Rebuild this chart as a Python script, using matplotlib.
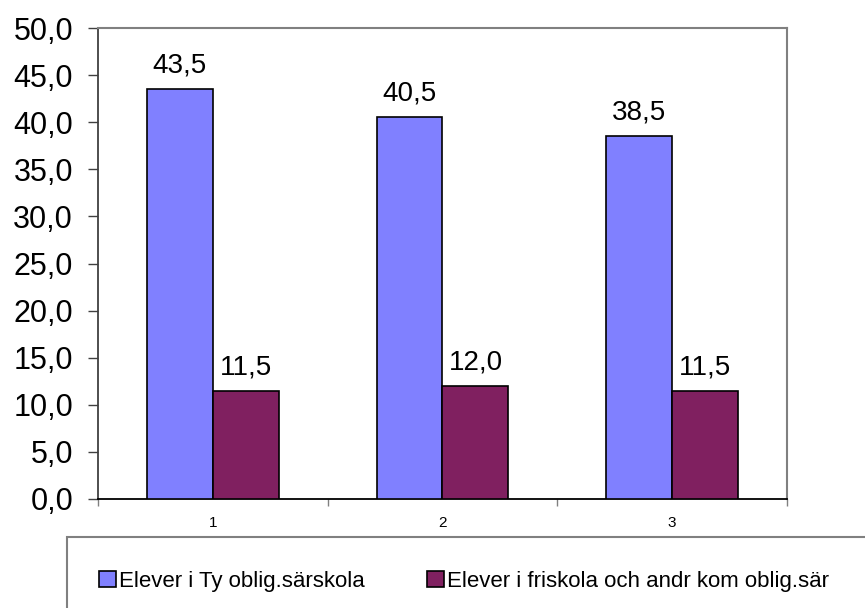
import numpy as np
import matplotlib.pyplot as plt
from matplotlib.patches import Rectangle
from matplotlib.ticker import FuncFormatter, FixedLocator

plt.rcParams['font.family'] = ['Liberation Sans', 'DejaVu Sans']

categories = ['1', '2', '3']
series_names = ['Elever i Ty oblig.särskola',
                'Elever i friskola och andr kom oblig.sär']
ty_values = [43.5, 40.5, 38.5]
fri_values = [11.5, 12.0, 11.5]
colors = ['#8080FF', '#802060']


def comma_fmt(v, pos=None):
    return f'{v:.1f}'.replace('.', ',')


W, H = 865, 608
fig = plt.figure(figsize=(W / 100, H / 100), dpi=100)
ax = fig.add_axes([98 / W, (H - 499) / H, (787 - 98) / W, (499 - 28) / H])

x = np.arange(len(categories))
width = 66 / 230
for i, (vals, name, col) in enumerate(zip([ty_values, fri_values], series_names, colors)):
    pos = x + (i - 0.5) * width
    ax.bar(pos, vals, width, color=col, edgecolor='black', linewidth=1.2,
           label=name, zorder=3)
    for px, v in zip(pos, vals):
        ax.annotate(comma_fmt(v), (px, v), xytext=(0, 12),
                    textcoords='offset points', ha='center', va='baseline',
                    fontsize=20)

ax.set_xlim(-0.5, len(categories) - 0.5)
ax.set_ylim(0, 50)
ax.set_yticks(np.arange(0, 50.1, 5))
ax.yaxis.set_major_formatter(FuncFormatter(comma_fmt))
ax.tick_params(axis='y', labelsize=22, length=7, width=1, color='#404040', pad=11)

ax.xaxis.set_major_locator(FixedLocator(np.arange(-0.5, len(categories), 1)))
ax.xaxis.set_major_formatter(FuncFormatter(lambda v, p: ''))
ax.xaxis.set_minor_locator(FixedLocator(x))
ax.set_xticklabels(categories, minor=True)
ax.tick_params(axis='x', which='major', length=5, width=1, color='#808080')
ax.tick_params(axis='x', which='minor', length=0, labelsize=11, pad=12)

ax.spines['left'].set_color('#404040')
ax.spines['left'].set_linewidth(1.3)
ax.spines['bottom'].set_color('black')
ax.spines['bottom'].set_linewidth(1.3)
ax.spines['top'].set_color('#808080')
ax.spines['top'].set_linewidth(1.5)
ax.spines['right'].set_color('#808080')
ax.spines['right'].set_linewidth(1.5)

# legend box running off the figure edge
fig.patches.append(Rectangle((67 / W, -0.05), 1.0, (H - 537) / H + 0.05,
                             transform=fig.transFigure, fill=False,
                             edgecolor='#808080', linewidth=1.5, clip_on=False))
handles, labels = ax.get_legend_handles_labels()
leg = fig.legend(handles, labels, loc='center left',
                 bbox_to_anchor=(90 / W, (H - 581) / H), ncol=2, frameon=False,
                 fontsize=16, handlelength=0.75, handleheight=0.75,
                 handletextpad=0.15, columnspacing=2.8, borderaxespad=0)

fig.savefig('out.png', dpi=100)
